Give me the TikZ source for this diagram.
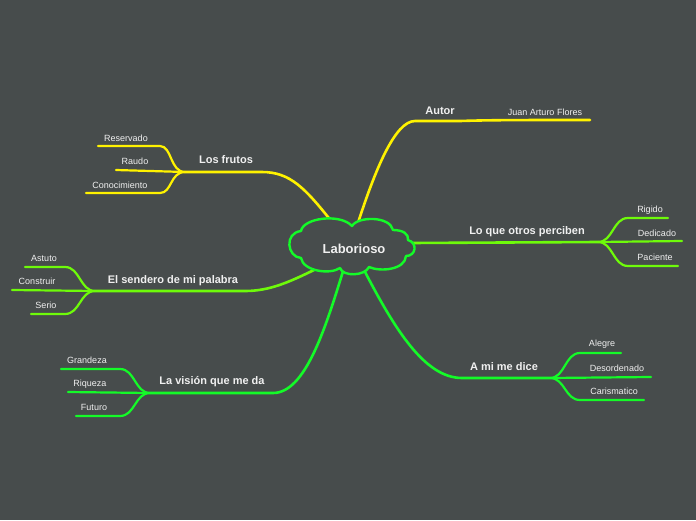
\documentclass[tikz,border=0pt]{standalone}
\usepackage{fontspec}
\setmainfont{Liberation Sans}
\definecolor{bg}{RGB}{71,76,76}
\definecolor{cyel}{RGB}{255,242,0}
\definecolor{clime}{RGB}{110,250,10}
\definecolor{cgrn}{RGB}{20,250,40}
\definecolor{txt}{RGB}{240,240,240}
\tikzset{
  mainline/.style={line width=2.6pt, line cap=round},
  subline/.style={line width=2.2pt, line cap=round},
  topic/.style={text=txt, font=\bfseries\fontsize{11}{12}\selectfont, inner sep=0pt},
  subtopic/.style={text=txt, font=\fontsize{9}{10}\selectfont, inner sep=0pt},
  cloudline/.style={draw=cgrn, line width=2.4pt, fill=bg, line join=round},
  centertext/.style={text=txt, font=\bfseries\fontsize{13}{14}\selectfont},
}
\begin{document}
\begin{tikzpicture}[x=1pt,y=-1pt]
\fill[bg] (0,0) rectangle (696,520);
\useasboundingbox (0,0) rectangle (696,520);

% junction coordinates
\coordinate (cA) at (357,226);
\coordinate (aut1) at (415,121);
\coordinate (aut2) at (590,120);
\coordinate (cF) at (332,222);
\coordinate (fr1) at (262,172);
\coordinate (frJ) at (185,172);
\coordinate (cS) at (322,266);
\coordinate (se1) at (245,291);
\coordinate (seJ) at (95,291);
\coordinate (cV) at (344,268);
\coordinate (vi1) at (273,393);
\coordinate (viJ) at (150,393);
\coordinate (cL) at (410,243);
\coordinate (loJ) at (598,242);
\coordinate (cM) at (363,268);
\coordinate (mi1) at (462,378);
\coordinate (miJ) at (550,378);

% sub end coordinates
\coordinate (r1a) at (160,146); \coordinate (r1b) at (98,146);
\coordinate (r2b) at (116,170);
\coordinate (r3a) at (160,193); \coordinate (r3b) at (86,193);
\coordinate (s1a) at (65,267); \coordinate (s1b) at (25,267);
\coordinate (s2b) at (12,290);
\coordinate (s3a) at (65,314); \coordinate (s3b) at (31,314);
\coordinate (v1a) at (120,369); \coordinate (v1b) at (61,369);
\coordinate (v2b) at (68,392);
\coordinate (v3a) at (120,416); \coordinate (v3b) at (76,416);
\coordinate (l1a) at (628,218); \coordinate (l1b) at (668,218);
\coordinate (l2b) at (682,241);
\coordinate (l3a) at (628,266); \coordinate (l3b) at (678,266);
\coordinate (m1a) at (580,353); \coordinate (m1b) at (621,353);
\coordinate (m2b) at (651,377);
\coordinate (m3a) at (580,400); \coordinate (m3b) at (644,400);

% Autor
\draw[mainline, cyel] (cA) .. controls (375,170) and (395,121) .. (aut1) -- (460,121) .. controls (490,120) and (520,120) .. (aut2);
\node[topic] (autor) at (440,111) {Autor};
\node[subtopic] (juan) at (545,112) {Juan Arturo Flores};

% Los frutos
\draw[mainline, cyel] (cF) .. controls (305,188) and (290,172) .. (fr1) -- (frJ);
\node[topic] (frutos) at (226,160) {Los frutos};
\draw[subline, cyel] (frJ) .. controls (170,172) and (172,146) .. (r1a) -- (r1b);
\draw[subline, cyel] (frJ) -- (r2b);
\draw[subline, cyel] (frJ) .. controls (170,172) and (172,193) .. (r3a) -- (r3b);
\node[subtopic] (reservado) at (126,138) {Reservado};
\node[subtopic] (raudo) at (135,161) {Raudo};
\node[subtopic] (conoc) at (120,185) {Conocimiento};

% El sendero de mi palabra
\draw[mainline, clime] (cS) .. controls (290,282) and (270,291) .. (se1) -- (seJ);
\node[topic] (sendero) at (173,281) {El sendero de mi palabra};
\draw[subline, clime] (seJ) .. controls (80,291) and (80,267) .. (s1a) -- (s1b);
\draw[subline, clime] (seJ) -- (s2b);
\draw[subline, clime] (seJ) .. controls (80,291) and (80,314) .. (s3a) -- (s3b);
\node[subtopic] (astuto) at (44,258) {Astuto};
\node[subtopic] (construir) at (37,281) {Construir};
\node[subtopic] (serio) at (46,305) {Serio};

% La vision que me da
\draw[mainline, cgrn] (cV) .. controls (325,330) and (305,393) .. (vi1) -- (viJ);
\node[topic] (vision) at (212,382) {La visión que me da};
\draw[subline, cgrn] (viJ) .. controls (135,393) and (135,369) .. (v1a) -- (v1b);
\draw[subline, cgrn] (viJ) -- (v2b);
\draw[subline, cgrn] (viJ) .. controls (135,393) and (135,416) .. (v3a) -- (v3b);
\node[subtopic] (grandeza) at (87,360) {Grandeza};
\node[subtopic] (riqueza) at (90,384) {Riqueza};
\node[subtopic] (futuro) at (94,407) {Futuro};

% Lo que otros perciben
\draw[mainline, clime] (cL) -- (loJ);
\node[topic] (perciben) at (527,232) {Lo que otros perciben};
\draw[subline, clime] (loJ) .. controls (613,242) and (613,218) .. (l1a) -- (l1b);
\draw[subline, clime] (loJ) -- (l2b);
\draw[subline, clime] (loJ) .. controls (613,242) and (613,266) .. (l3a) -- (l3b);
\node[subtopic] (rigido) at (650,210) {Rigido};
\node[subtopic] (dedicado) at (657,233) {Dedicado};
\node[subtopic] (paciente) at (655,257) {Paciente};

% A mi me dice
\draw[mainline, cgrn] (cM) .. controls (395,330) and (425,378) .. (mi1) -- (miJ);
\node[topic] (dice) at (504,367) {A mi me dice};
\draw[subline, cgrn] (miJ) .. controls (565,378) and (565,353) .. (m1a) -- (m1b);
\draw[subline, cgrn] (miJ) -- (m2b);
\draw[subline, cgrn] (miJ) .. controls (565,378) and (565,400) .. (m3a) -- (m3b);
\node[subtopic] (alegre) at (602,344) {Alegre};
\node[subtopic] (desord) at (617,368) {Desordenado};
\node[subtopic] (caris) at (614,391) {Carismatico};

% central cloud, drawn over the connector ends
\path[cloudline] (301,258)
  .. controls (287,257) and (284,233) .. (301,231)
  .. controls (303,218) and (340,213) .. (352,226)
  .. controls (358,216) and (390,216) .. (393,230)
  .. controls (403,230) and (409,234) .. (408,240)
  .. controls (418,243) and (416,256) .. (406,256)
  .. controls (405,270) and (380,272) .. (369,267)
  .. controls (365,276) and (343,277) .. (340,268)
  .. controls (330,275) and (303,271) .. cycle;
\node[centertext] (center) at (354,249) {Laborioso};
\end{tikzpicture}
\end{document}
